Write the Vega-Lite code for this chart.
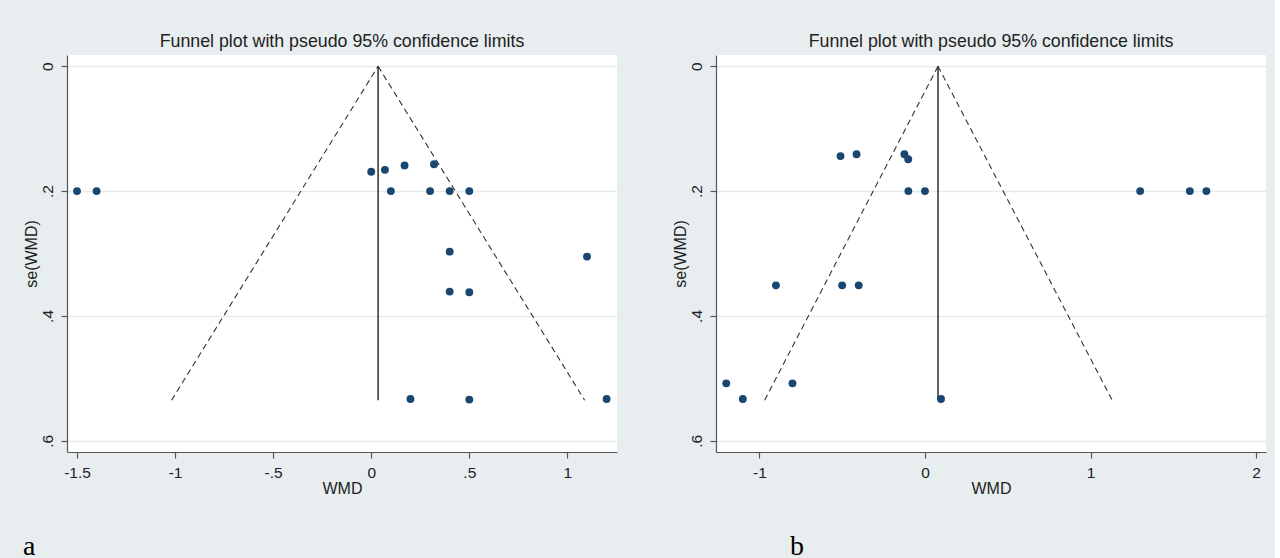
{
  "$schema": "https://vega.github.io/schema/vega-lite/v6.json",
  "background": "#e8eef0",
  "padding": {"left": 23, "top": 33, "right": 9, "bottom": 0},
  "config": {
    "font": "Liberation Sans",
    "view": {"stroke": null},
    "axis": {
      "labelFont": "Liberation Sans", "labelFontSize": 15.5, "labelColor": "#222",
      "titleFont": "Liberation Sans", "titleFontSize": 16, "titleFontWeight": "normal", "titleColor": "#222",
      "domainColor": "#555", "tickColor": "#555", "tickSize": 6, "domainWidth": 1.2, "tickWidth": 1.2,
      "gridColor": "#e3ebef", "gridWidth": 1.6
    },
    "title": {"font": "Liberation Sans", "fontSize": 17.8, "fontWeight": "normal", "color": "#222"}
  },
  "datasets": {
    "a_points": [
      {"wmd": -1.5, "se": 0.2}, {"wmd": -1.4, "se": 0.2},
      {"wmd": 0.0, "se": 0.169}, {"wmd": 0.07, "se": 0.166}, {"wmd": 0.17, "se": 0.159}, {"wmd": 0.32, "se": 0.157},
      {"wmd": 0.1, "se": 0.2}, {"wmd": 0.3, "se": 0.2}, {"wmd": 0.4, "se": 0.2}, {"wmd": 0.5, "se": 0.2},
      {"wmd": 0.4, "se": 0.297}, {"wmd": 1.1, "se": 0.305},
      {"wmd": 0.4, "se": 0.361}, {"wmd": 0.5, "se": 0.362},
      {"wmd": 0.2, "se": 0.533}, {"wmd": 0.5, "se": 0.534}, {"wmd": 1.2, "se": 0.533}
    ],
    "a_funnel": [
      {"side": "left", "wmd": 0.035, "se": 0}, {"side": "left", "wmd": -1.018, "se": 0.535},
      {"side": "right", "wmd": 0.035, "se": 0}, {"side": "right", "wmd": 1.088, "se": 0.535}
    ],
    "a_pooled": [{"wmd": 0.035, "se": 0, "se2": 0.535}],
    "b_points": [
      {"wmd": -0.51, "se": 0.144}, {"wmd": -0.413, "se": 0.141}, {"wmd": -0.124, "se": 0.141}, {"wmd": -0.101, "se": 0.149},
      {"wmd": -0.1, "se": 0.2}, {"wmd": 0.0, "se": 0.2}, {"wmd": 1.3, "se": 0.2}, {"wmd": 1.6, "se": 0.2}, {"wmd": 1.7, "se": 0.2},
      {"wmd": -0.9, "se": 0.351}, {"wmd": -0.5, "se": 0.351}, {"wmd": -0.4, "se": 0.351},
      {"wmd": -1.2, "se": 0.508}, {"wmd": -0.8, "se": 0.508},
      {"wmd": -1.1, "se": 0.533}, {"wmd": 0.097, "se": 0.533}
    ],
    "b_funnel": [
      {"side": "left", "wmd": 0.079, "se": 0}, {"side": "left", "wmd": -0.968, "se": 0.535},
      {"side": "right", "wmd": 0.079, "se": 0}, {"side": "right", "wmd": 1.131, "se": 0.535}
    ],
    "b_pooled": [{"wmd": 0.079, "se": 0, "se2": 0.535}]
  },
  "hconcat": [
    {
      "title": {"text": "a", "orient": "bottom", "anchor": "start", "font": "Liberation Serif", "fontSize": 28, "color": "#000", "offset": 36, "dx": 0},
      "vconcat": [
        {
          "width": 550, "height": 397,
          "title": {"text": "Funnel plot with pseudo 95% confidence limits", "frame": "group", "offset": 4},
          "view": {"fill": "white", "stroke": null},
          "encoding": {
            "x": {"field": "wmd", "type": "quantitative",
                  "scale": {"domain": [-1.551, 1.253], "nice": false, "zero": false},
                  "axis": {"title": "WMD", "grid": false, "values": [-1.5, -1, -0.5, 0, 0.5, 1], "labelPadding": 7, "titlePadding": 0,
                           "labelExpr": "datum.value == 0 ? '0' : (datum.value < 0 ? '-' : '') + replace(toString(abs(datum.value)), '0.', '.')"}},
            "y": {"field": "se", "type": "quantitative",
                  "scale": {"domain": [-0.018, 0.618], "nice": false, "zero": false, "reverse": true},
                  "axis": {"title": "se(WMD)", "grid": true, "values": [0, 0.2, 0.4, 0.6], "labelAngle": -90, "labelAlign": "center", "labelBaseline": "bottom", "labelPadding": 6, "titlePadding": 1,
                           "labelExpr": "datum.value == 0 ? '0' : replace(toString(datum.value), '0.', '.')"}}
          },
          "layer": [
            {"data": {"name": "a_funnel"}, "mark": {"type": "line", "color": "#333", "strokeWidth": 1.1, "strokeDash": [6, 4]}, "encoding": {"detail": {"field": "side"}}},
            {"data": {"name": "a_pooled"}, "mark": {"type": "rule", "color": "#222", "strokeWidth": 1.4}, "encoding": {"y2": {"field": "se2"}}},
            {"data": {"name": "a_points"}, "mark": {"type": "point", "filled": true, "shape": "circle", "size": 62, "color": "#1a476f", "opacity": 1}}
          ]
        }
      ]
    },
    {
      "title": {"text": "b", "orient": "bottom", "anchor": "start", "font": "Liberation Serif", "fontSize": 28, "color": "#000", "offset": 36, "dx": 118},
      "vconcat": [
        {
          "width": 550, "height": 397,
          "title": {"text": "Funnel plot with pseudo 95% confidence limits", "frame": "group", "offset": 4},
          "view": {"fill": "white", "stroke": null},
          "encoding": {
            "x": {"field": "wmd", "type": "quantitative",
                  "scale": {"domain": [-1.262, 2.06], "nice": false, "zero": false},
                  "axis": {"title": "WMD", "grid": false, "values": [-1, 0, 1, 2], "labelPadding": 7, "titlePadding": 0,
                           "labelExpr": "datum.value == 0 ? '0' : (datum.value < 0 ? '-' : '') + replace(toString(abs(datum.value)), '0.', '.')"}},
            "y": {"field": "se", "type": "quantitative",
                  "scale": {"domain": [-0.018, 0.618], "nice": false, "zero": false, "reverse": true},
                  "axis": {"title": "se(WMD)", "grid": true, "values": [0, 0.2, 0.4, 0.6], "labelAngle": -90, "labelAlign": "center", "labelBaseline": "bottom", "labelPadding": 6, "titlePadding": 1,
                           "labelExpr": "datum.value == 0 ? '0' : replace(toString(datum.value), '0.', '.')"}}
          },
          "layer": [
            {"data": {"name": "b_funnel"}, "mark": {"type": "line", "color": "#333", "strokeWidth": 1.1, "strokeDash": [6, 4]}, "encoding": {"detail": {"field": "side"}}},
            {"data": {"name": "b_pooled"}, "mark": {"type": "rule", "color": "#222", "strokeWidth": 1.4}, "encoding": {"y2": {"field": "se2"}}},
            {"data": {"name": "b_points"}, "mark": {"type": "point", "filled": true, "shape": "circle", "size": 62, "color": "#1a476f", "opacity": 1}}
          ]
        }
      ]
    }
  ],
  "spacing": 55
}
